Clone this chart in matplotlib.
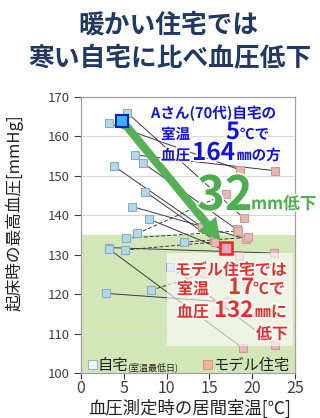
import matplotlib
matplotlib.use('Agg')
import matplotlib.pyplot as plt
import matplotlib.patheffects as pe
from matplotlib.patches import Rectangle

plt.rcParams['font.family'] = ['Noto Sans CJK JP', 'DejaVu Sans']

# each subject: home (coldest day) -> model house
home_temp = [5.4, 3.3, 6.3, 7.3, 3.9, 7.5, 6.0, 8.0, 6.6, 5.3, 3.3, 3.3, 5.1, 12.0, 8.2, 2.9, 10.4]
home_bp = [166.0, 163.3, 155.3, 153.2, 152.4, 146.0, 142.2, 139.0, 135.4, 134.2, 131.8, 131.4, 131.2, 133.2, 121.0, 120.2, 127.0]
model_temp = [19.0, 18.6, 22.7, 18.2, 14.1, 15.5, 19.3, 18.4, 16.9, 18.3, 22.6, 18.9, 15.6, 19.5, 14.4, 17.0, 22.7]
model_bp = [139.3, 151.5, 151.3, 136.4, 137.1, 133.8, 134.0, 129.7, 145.4, 136.0, 130.4, 106.3, 133.2, 134.4, 125.3, 118.0, 107.1]

# Mr. A (70s)
a_home = (4.8, 164.0)
a_model = (16.9, 131.6)

x_ticks = [0, 5, 10, 15, 20, 25]
y_ticks = [100, 110, 120, 130, 140, 150, 160, 170]

W, H = 320, 418
fig = plt.figure(figsize=(W / 100, H / 100), dpi=100)
ax = fig.add_axes([81 / W, 1 - 373 / H, 214 / W, 276 / H])

ax.set_xlim(0, 25)
ax.set_ylim(100, 170)
ax.axhspan(100, 135, color='#d3e6b8', zorder=0)
ax.set_axisbelow(True)
ax.grid(axis='y', color='#d9d9d9', lw=0.8)

dashed = {8, 9, 12, 13, 14}
for i in range(len(home_temp)):
    ax.plot([home_temp[i], model_temp[i]], [home_bp[i], model_bp[i]],
            color='#3a3a3a', lw=0.7, ls=(0, (4, 2)) if i in dashed else '-', zorder=2)

ax.plot(home_temp, home_bp, 's', ms=6, mfc='#b4d8e7', mec='#86aec4', mew=0.8, ls='none', zorder=3)
ax.plot(model_temp, model_bp, 's', ms=6, mfc='#e8b7b5', mec='#c99c9a', mew=0.8, ls='none', zorder=3)

# translucent box behind red note
ax.add_patch(Rectangle((10.0, 106.9), 14.8, 23.6, fc='white', alpha=0.6, ec='none', zorder=4))

ax.annotate('', xy=(16.3, 133.6), xytext=a_home,
            arrowprops=dict(arrowstyle='simple,head_length=1.1,head_width=1.2,tail_width=0.42',
                            mutation_scale=14, color='#55b155', lw=0, shrinkA=0, shrinkB=0),
            zorder=5)
ax.plot(*a_home, 's', ms=9, mfc='#33b5ff', mec='#0020c0', mew=1.5, zorder=6)
ax.plot(*a_model, 's', ms=9, mfc='#e8a3c3', mec='#ff2020', mew=1.8, zorder=6)

ax.set_xticks(x_ticks)
ax.set_yticks(y_ticks)
ax.tick_params(axis='x', labelsize=11.5, colors='#404040', length=4, pad=1)
ax.tick_params(axis='y', labelsize=9.5, colors='#404040', length=5, pad=3)
for s in ax.spines.values():
    s.set_color('#a0a0a0')
    s.set_linewidth(0.9)

ax.set_xlabel('血圧測定時の居間室温[℃]', fontsize=12.5, color='#222222')
ax.xaxis.set_label_coords(0.51, -0.095)
ax.set_ylabel('起床時の最高血圧[mmHg]', fontsize=12, color='#222222')
ax.yaxis.set_label_coords(-0.27, 0.58)

# title
navy = '#1f3864'
fig.text(168 / W, 1 - 25 / H, '暖かい住宅では', ha='center', va='center', fontsize=18.5,
         fontweight='bold', color=navy)
fig.text(170 / W, 1 - 58 / H, '寒い自宅に比べ血圧低下', ha='center', va='center', fontsize=18.5,
         fontweight='bold', color=navy)


def put(x, y, s, size, color):
    fig.text(x / W, 1 - y / H, s, ha='left', va='baseline', fontsize=size, fontweight='bold',
             color=color, path_effects=[pe.withStroke(linewidth=2.5, foreground='white')], zorder=10)


blue = '#1010e8'
put(151, 118, 'Aさん(70代)自宅の', 10.5, blue)
put(161, 139, '室温', 10.5, blue)
put(226, 139, '5', 17, blue)
put(240, 139, '℃で', 10.5, blue)
put(161, 160, '血圧', 10.5, blue)
put(192, 160, '164', 17.5, blue)
put(237, 160, '㎜の方', 10.5, blue)

green = '#4cae4c'
put(197, 210, '32', 34, green)
put(251, 209, 'mm低下', 12, green)

red = '#e8302a'
put(175, 275, 'モデル住宅では', 11.5, red)
put(177, 294, '室温', 11.5, red)
put(228, 294, '17', 16, red)
put(253, 294, '℃で', 11.5, red)
put(177, 317, '血圧', 11.5, red)
put(214, 317, '132', 16, red)
put(255, 317, '㎜に', 11.5, red)
put(256, 339, '低下', 11.5, red)

# legend
fig.add_artist(Rectangle((88 / W, 1 - 369 / H), 9 / W, 9 / H, transform=fig.transFigure,
                         fc='#eef5fa', ec='#9ab6c8', lw=0.8))
fig.text(98 / W, 1 - 370 / H, '自宅', fontsize=11, color='#222222', va='baseline')
fig.text(127 / W, 1 - 370 / H, '(室温最低日)', fontsize=6.5, color='#222222', va='baseline')
fig.add_artist(Rectangle((203 / W, 1 - 369 / H), 9 / W, 9 / H, transform=fig.transFigure,
                         fc='#f0b49c', ec='#d89a86', lw=0.8))
fig.text(213 / W, 1 - 370 / H, 'モデル住宅', fontsize=11, color='#222222', va='baseline')

fig.savefig('out.png', dpi=100)
